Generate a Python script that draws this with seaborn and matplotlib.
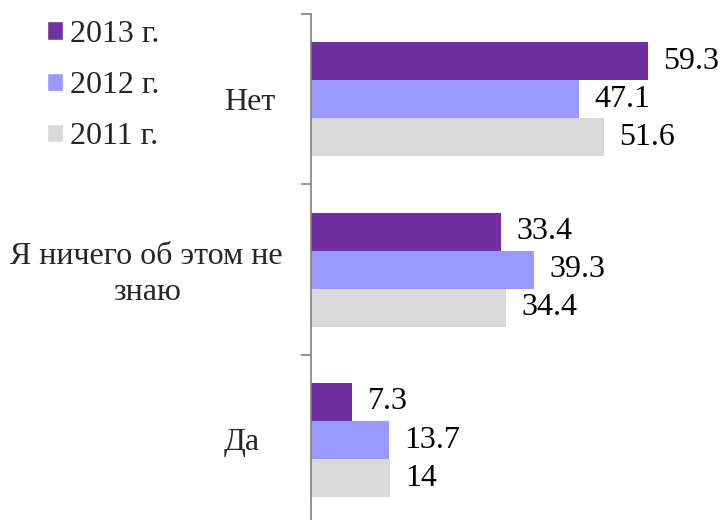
import seaborn as sns
import pandas as pd
import matplotlib.pyplot as plt
from matplotlib.patches import Patch

categories = ["Нет", "Я ничего об этом не\nзнаю", "Да"]
years = ["2013 г.", "2012 г.", "2011 г."]
values_2013 = [59.3, 33.4, 7.3]
values_2012 = [47.1, 39.3, 13.7]
values_2011 = [51.6, 34.4, 14]
colors = ["#7030A0", "#9999FF", "#D9D9D9"]
label_gap = [36, 28, 51]  # px between axis and category label
label_drop = [3, 5, 2]    # px to move category label down

rows = []
for year, vals in zip(years, [values_2013, values_2012, values_2011]):
    for cat, v in zip(categories, vals):
        rows.append({"cat": cat, "year": year, "value": v})
df = pd.DataFrame(rows)

sns.set_style("white")
plt.rcParams["font.family"] = ["Liberation Serif", "DejaVu Serif"]

fig = plt.figure(figsize=(7.23, 5.20), dpi=100)
ax = fig.add_axes([0.430, -0.01, 0.570, 0.983])

sns.barplot(data=df, y="cat", x="value", hue="year", order=categories,
            hue_order=years, palette=colors, width=0.67, orient="h",
            saturation=1, linewidth=0, ax=ax, legend=False)

# value labels
for container in ax.containers:
    ax.bar_label(container, labels=[f"{v:g}" for v in container.datavalues],
                 padding=11, fontsize=23, color="black")

ax.set_xlim(0, 72.5)
ax.set_ylim(2.5, -0.5)
ax.set_xlabel("")
ax.set_ylabel("")
ax.set_xticks([])

# ticks at category boundaries
ax.set_yticks([-0.5, 0.5, 1.5, 2.5])
ax.set_yticklabels([])
ax.tick_params(axis="y", which="major", length=7, width=1.2, color="#808080", left=True)

# category labels
for i, (cat, gap, drop) in enumerate(zip(categories, label_gap, label_drop)):
    ax.annotate(cat, xy=(0, i), xycoords=ax.get_yaxis_transform(),
                xytext=(-gap, -drop), textcoords="offset pixels",
                ha="right", va="center", multialignment="center",
                fontsize=23, linespacing=1.3)

for s in ["top", "right", "bottom"]:
    ax.spines[s].set_visible(False)
ax.spines["left"].set_color("#808080")
ax.spines["left"].set_linewidth(1.2)

handles = [Patch(facecolor=c, label=y) for c, y in zip(colors, years)]
fig.legend(handles=handles, loc="upper left", bbox_to_anchor=(0.025, 1.017),
           frameon=False, fontsize=23, handlelength=0.5, handleheight=0.5,
           handletextpad=0.22, labelspacing=0.69)

fig.savefig("out.png", dpi=100)
